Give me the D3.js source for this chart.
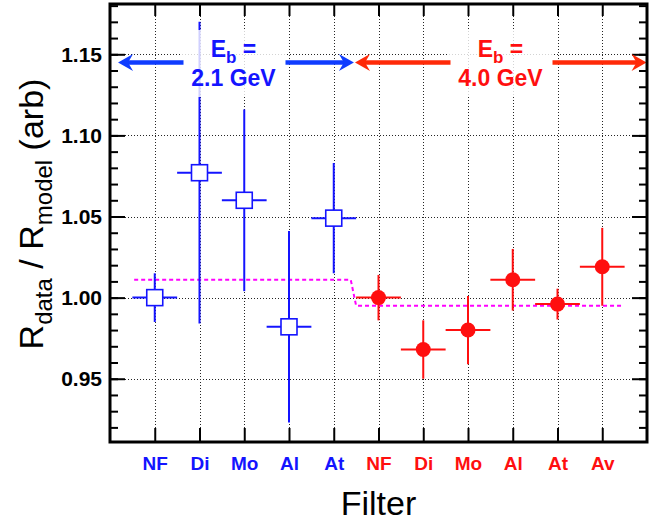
<!DOCTYPE html>
<html><head><meta charset="utf-8">
<script src="https://cdn.jsdelivr.net/npm/d3@7"></script>
<style>body{margin:0;background:#fff} svg{display:block}</style>
</head><body><svg id="c" width="668" height="527"></svg>
<script>
// ---- data ----
const categories = ["NF","Di","Mo","Al","At","NF","Di","Mo","Al","At","Av"];
const blueValues = [1.000, 1.077, 1.060, 0.982, 1.049];
const blueErrors = [0.015, 0.093, 0.056, 0.059, 0.034];
const redValues  = [1.000, 0.968, 0.980, 1.011, 0.996, 1.019];
const redErrors  = [0.014, 0.018, 0.021, 0.019, 0.0095, 0.024];
const modelX = [-0.46, 4.38, 4.5, 10.43];
const modelY = [1.011, 1.011, 0.995, 0.995];
const yTicks = [0.95, 1.00, 1.05, 1.10, 1.15];
const yMinorTicks = d3.range(92, 119).map(d => d / 100);
const beamEnergies = ["2.1 GeV", "4.0 GeV"];
const arrowLevel = 1.145;
const blueArrow = [-0.82, 4.45];
const redArrow = [4.475, 10.99];

// ---- layout ----
const L = 110, R = 647, T = 4, B = 442;
const BLUE = "#1414ff", RED = "#ff0f0f";
const FONT = "'Liberation Sans', Arial, Helvetica, sans-serif";
const svg = d3.select("#c");
const x = d3.scaleLinear().domain([-1, 11]).range([L, R]);
const y = d3.scaleLinear().domain([0.911, 1.181]).range([B, T]);
const catIdx = d3.range(categories.length);
const catColor = i => i < 5 ? BLUE : RED;

// grid
const grid = svg.append("g").attr("stroke", "#000").attr("stroke-width", 1)
  .attr("stroke-dasharray", "1,2").attr("opacity", 0.85);
grid.selectAll("line.v").data(catIdx).join("line")
  .attr("x1", d => Math.round(x(d)) + 0.5).attr("x2", d => Math.round(x(d)) + 0.5)
  .attr("y1", T).attr("y2", B);
grid.selectAll("line.h").data(yTicks).join("line")
  .attr("x1", L).attr("x2", R)
  .attr("y1", d => Math.round(y(d)) + 0.5).attr("y2", d => Math.round(y(d)) + 0.5);

// axes
function styleAxis(g) {
  g.select(".domain").remove();
  g.selectAll(".tick line").attr("stroke", "#000").attr("stroke-width", 2);
}
svg.append("g").attr("transform", `translate(${L},0)`)
  .call(d3.axisLeft(y).tickValues(yMinorTicks).tickSize(-8).tickFormat(""))
  .call(styleAxis);
svg.append("g").attr("transform", `translate(${L},0)`)
  .call(d3.axisLeft(y).tickValues(yTicks).tickSize(-15).tickPadding(8).tickFormat(d3.format(".2f")))
  .call(styleAxis)
  .call(g => g.selectAll("text").attr("font-family", FONT).attr("font-weight", "bold")
        .attr("font-size", 21).attr("fill", "#000"));
svg.append("g").attr("transform", `translate(${R},0)`)
  .call(d3.axisRight(y).tickValues(yMinorTicks).tickSize(-8).tickFormat(""))
  .call(styleAxis);
svg.append("g").attr("transform", `translate(${R},0)`)
  .call(d3.axisRight(y).tickValues(yTicks).tickSize(-15).tickFormat(""))
  .call(styleAxis);
svg.append("g").attr("transform", `translate(0,${B})`)
  .call(d3.axisBottom(x).tickValues(catIdx).tickSize(-14).tickPadding(14.5).tickFormat(i => categories[i]))
  .call(styleAxis)
  .call(g => g.selectAll("text").attr("font-family", FONT).attr("font-weight", "bold")
        .attr("font-size", 19).attr("fill", (d) => catColor(d)));
svg.append("g").attr("transform", `translate(0,${T})`)
  .call(d3.axisTop(x).tickValues(catIdx).tickSize(-12).tickFormat(""))
  .call(styleAxis);

// model dashed line
svg.append("path")
  .datum(modelX.map((d, i) => [d, modelY[i]]))
  .attr("fill", "none").attr("stroke", "#ff00ff").attr("stroke-width", 2)
  .attr("stroke-dasharray", "4,3")
  .attr("d", d3.line().x(d => x(d[0])).y(d => y(d[1])));

// data points
function drawSeries(vals, errs, offset, color, marker) {
  const g = svg.append("g");
  const data = vals.map((v, i) => ({ i: i + offset, v, e: errs[i] }));
  g.selectAll("line.ev").data(data).join("line")
    .attr("x1", d => x(d.i)).attr("x2", d => x(d.i))
    .attr("y1", d => y(d.v - d.e)).attr("y2", d => y(d.v + d.e))
    .attr("stroke", color).attr("stroke-width", 2);
  g.selectAll("line.eh").data(data).join("line")
    .attr("x1", d => x(d.i - 0.5)).attr("x2", d => x(d.i + 0.5))
    .attr("y1", d => y(d.v)).attr("y2", d => y(d.v))
    .attr("stroke", color).attr("stroke-width", 2);
  if (marker === "square") {
    g.selectAll("rect").data(data).join("rect")
      .attr("x", d => x(d.i) - 8).attr("y", d => y(d.v) - 8)
      .attr("width", 16).attr("height", 16)
      .attr("fill", "#fff").attr("stroke", color).attr("stroke-width", 1.6);
  } else {
    g.selectAll("circle").data(data).join("circle")
      .attr("cx", d => x(d.i)).attr("cy", d => y(d.v)).attr("r", 7.5)
      .attr("fill", color);
  }
}
drawSeries(blueValues, blueErrors, 0, BLUE, "square");
drawSeries(redValues, redErrors, 5, RED, "circle");

// arrows (interrupted by label box)
const BOXW = 106;
function arrow(x0, x1, cx, color) {
  const yy = y(arrowLevel);
  const a = x(x0), b = x(x1);
  const g = svg.append("g").attr("fill", color);
  g.append("line").attr("x1", a + 9).attr("x2", cx - BOXW / 2 + 3).attr("y1", yy).attr("y2", yy)
    .attr("stroke", color).attr("stroke-width", 4.5);
  g.append("line").attr("x1", cx + BOXW / 2 - 1).attr("x2", b - 9).attr("y1", yy).attr("y2", yy)
    .attr("stroke", color).attr("stroke-width", 4.5);
  g.append("path").attr("d", `M${a},${yy} L${a + 15},${yy - 8.5} L${a + 10},${yy} L${a + 15},${yy + 8.5} Z`);
  g.append("path").attr("d", `M${b},${yy} L${b - 15},${yy - 8.5} L${b - 10},${yy} L${b - 15},${yy + 8.5} Z`);
}

// labels with boxes
function beamLabel(cx, color, energy) {
  svg.append("rect").attr("x", cx - BOXW / 2).attr("y", 30).attr("width", BOXW).attr("height", 67)
    .attr("fill", "#fff").attr("opacity", 0.8);
  const t = svg.append("text").attr("x", cx).attr("y", 57).attr("text-anchor", "middle")
    .attr("font-family", FONT).attr("font-weight", "bold").attr("font-size", 23).attr("fill", color);
  t.append("tspan").text("E");
  t.append("tspan").attr("font-size", 17).attr("dy", 6).text("b");
  t.append("tspan").attr("dy", -6).text(" =");
  svg.append("text").attr("x", cx).attr("y", 86).attr("text-anchor", "middle")
    .attr("font-family", FONT).attr("font-weight", "bold").attr("font-size", 23).attr("fill", color)
    .text(energy);
}
beamLabel(233.5, BLUE, beamEnergies[0]);
beamLabel(500.5, RED, beamEnergies[1]);
arrow(blueArrow[0], blueArrow[1], 233.5, "#0f3cff");
arrow(redArrow[0], redArrow[1], 500.5, "#ff2a08");

// frame
svg.append("rect").attr("x", L).attr("y", T).attr("width", R - L).attr("height", B - T)
  .attr("fill", "none").attr("stroke", "#000").attr("stroke-width", 3);

// axis titles
svg.append("text").attr("x", (L + R) / 2).attr("y", 515).attr("text-anchor", "middle")
  .attr("font-family", FONT).attr("font-size", 34).attr("fill", "#000").text("Filter");
const yt = svg.append("text").attr("transform", "translate(43,214) rotate(-90)")
  .attr("text-anchor", "middle").attr("font-family", FONT).attr("font-size", 34).attr("fill", "#000");
yt.append("tspan").text("R");
yt.append("tspan").attr("font-size", 24).attr("dy", 9).text("data");
yt.append("tspan").attr("dy", -9).text(" / R");
yt.append("tspan").attr("font-size", 24).attr("dy", 9).text("model");
yt.append("tspan").attr("dy", -9).text(" (arb)");
</script></body></html>
